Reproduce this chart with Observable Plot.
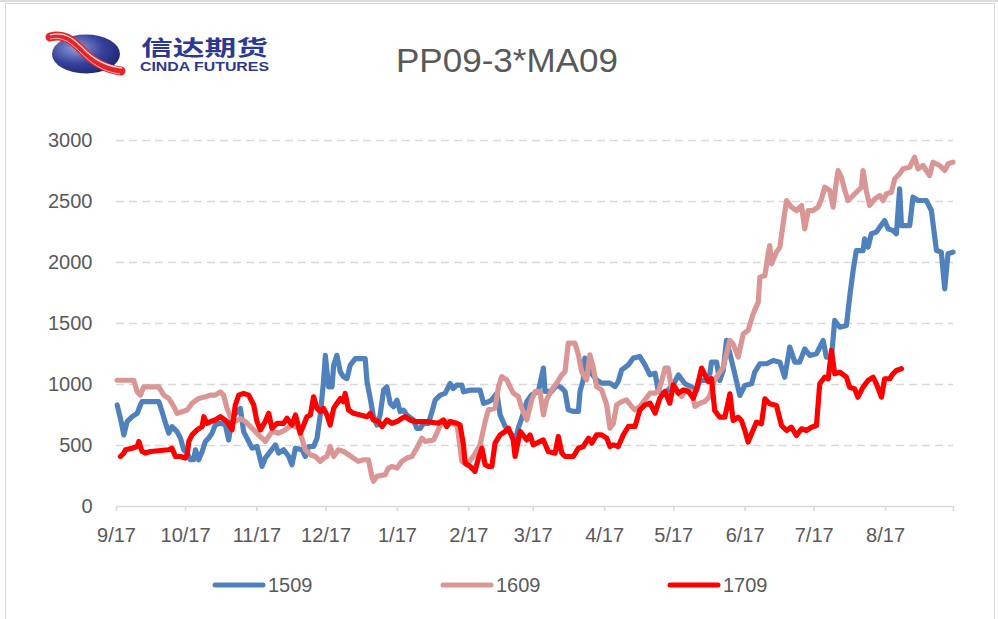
<!DOCTYPE html>
<html>
<head>
<meta charset="utf-8">
<script src="https://cdn.jsdelivr.net/npm/d3@7"></script>
<script src="https://cdn.jsdelivr.net/npm/@observablehq/plot@0.6"></script>
<style>
  html, body { margin: 0; padding: 0; background: #fff; }
  #page { position: relative; width: 998px; height: 619px; overflow: hidden; font-family: "Liberation Sans", Arial, sans-serif; }
  #frame { position: absolute; left: 5px; top: 3px; width: 990px; height: 640px; border: 1.5px solid #d9d9d9; box-sizing: border-box; }
  #topline { position: absolute; left: 0; top: 0; width: 998px; height: 1.5px; background: #dcdcdc; }
  #chart { position: absolute; left: 0; top: 0; }
  #header { position: absolute; left: 0; top: 0; }
  #legend { position: absolute; left: 0; top: 560px; }
</style>
</head>
<body>
<div id="page">
  <div id="topline"></div>
  <div id="frame"></div>
  <div id="chart"></div>
  <svg id="header" width="998" height="110"></svg>
  <svg id="legend" width="998" height="59"></svg>
</div>
<script>
// ---- Data (x = days since the 9/17 axis start, y = spread value) ----
const title = "PP09-3*MA09";
const logoCN = "信达期货";
const logoEN = "CINDA FUTURES";

const seriesNames = ["1509", "1609", "1709"];

const s1509 = [
  [0.3,832],[1.7,723],[3.2,587],[4.6,696],[6.8,736],[9.0,764],[10.4,832],[11.1,859],[18.4,859],[19.8,777],
  [21.3,682],[22.7,601],[24.1,655],[26.3,614],[27.8,560],[29.2,465],[30.7,438],[32.1,383],[33.5,383],[34.3,465],
  [35.7,383],[37.2,451],[38.6,533],[40.0,560],[41.5,601],[42.9,669],[45.1,682],[47.3,669],[48.7,546],[50.2,723],
  [52.4,777],[53.8,804],[55.2,614],[57.4,533],[58.9,478],[61.0,492],[63.2,329],[64.6,397],[66.8,451],[69.0,505],
  [70.4,438],[72.6,465],[74.8,410],[76.2,342],[77.7,478],[80.6,465],
  [82.0,410],[83.4,492],[85.6,492],[87.1,560],[88.5,750],[89.9,1022],[90.7,1239],[92.1,981],[93.6,981],[94.3,1158],
  [95.7,1239],[97.2,1103],[98.6,1062],[100.1,1049],[101.5,1158],[103.7,1212],[108.0,1212],[108.8,1022],[110.2,886],[111.6,736],
  [113.1,668],[114.5,750],[116.0,954],[117.4,981],[118.9,845],[120.3,818],[121.8,872],[123.2,777],[124.6,790],[126.1,750],
  [129.0,709],[130.4,641],[131.9,641],[133.3,682],[135.5,682],[137.0,777],[138.4,872],[140.6,913],[142.7,927],[144.9,1008],
  [146.3,967],[147.8,995],[150.0,995],[150.7,940],[153.6,954],[157.9,954],[159.4,845],[161.5,859],
  [163.0,874],[165.2,929],[166.6,751],[168.8,656],[171.7,587],[173.1,533],[174.5,642],[176.0,724],[178.2,860],[180.3,915],
  [183.2,943],[185.4,1134],[186.1,943],[189.0,943],[191.2,997],[193.4,970],[194.8,943],[196.2,792],[198.4,779],[200.6,779],
  [201.3,943],[202.7,1038],[203.4,1216],[205.6,1106],[208.5,1038],[210.7,1011],[214.3,1011],[216.5,983],[217.9,1024],[219.4,1120],
  [222.3,1161],[224.4,1216],[227.3,1229],[229.5,1161],[231.7,1079],[233.9,1093],[235.3,943],[236.7,929],[238.9,943],[241.8,997],
  [244.0,1079],
  [246.9,1006],[249.8,978],[251.9,951],[253.4,1033],[255.5,1033],[257.7,1088],[258.4,1183],[260.6,1183],[262.0,1033],[263.5,1115],
  [264.9,1361],[266.4,1252],[268.5,1088],[270.7,910],[272.9,992],[275.8,1006],[277.2,1101],[279.4,1170],[282.3,1170],[285.2,1197],
  [288.1,1183],[290.2,1060],[292.4,1306],[294.6,1183],[296.7,1183],[298.9,1292],[301.1,1238],[304.0,1252],[306.9,1361],[308.3,1224],
  [310.5,1224],[311.9,1525],[314.1,1470],[317.0,1484],[318.4,1716],[319.9,1934],[321.3,2098],[324.2,2098],[324.9,2194],[326.4,2126],
  [327.8,2235],[330.0,2249],[331.5,2290],[333.6,2344],[335.1,2276],[337.2,2262],[338.7,2235],[340.1,2604],[340.9,2303],[344.5,2303],
  [345.9,2536],[348.1,2508],[351.7,2508],[353.9,2426],[356.1,2098],[358.2,2085],[359.7,1784],[361.1,2071],[363.3,2085]
];

const s1609 = [
  [0.3,1035],[7.5,1035],[9.0,940],[10.4,913],[11.8,981],[18.4,981],[20.5,913],[22.7,886],[24.9,818],[26.3,764],
  [28.5,777],[30.7,791],[32.8,845],[35.7,886],[38.6,899],[40.8,913],[42.9,913],[45.1,940],[46.5,913],[48.0,804],
  [49.5,736],[51.6,700],[54.0,720],[56.0,696],[58.9,641],[61.7,587],[64.6,533],[67.5,614],[70.4,601],[73.3,628],
  [76.2,669],[79.1,640],[80.7,546],
  [82.0,465],[84.2,424],[86.3,410],[88.5,370],[89.9,397],[91.4,410],[92.8,492],[94.3,410],[96.4,465],[98.6,451],
  [100.8,424],[102.9,397],[105.1,370],[107.3,383],[109.4,383],[110.9,247],[111.6,207],[113.1,247],[116.7,261],[118.1,315],
  [119.6,329],[121.8,315],[123.9,370],[126.1,397],[128.3,410],[130.4,478],[132.6,560],[134.1,533],[137.7,546],[139.1,600],
  [140.6,668],[144.0,700],[148.0,660],
  [150.0,369],[152.1,341],[155.0,410],[157.9,505],[160.1,697],[161.5,792],[164.4,806],[165.9,983],[167.3,1065],[169.5,1038],
  [170.9,983],[172.3,929],[174.5,902],[176.0,806],[178.2,710],[180.3,874],[181.8,943],[183.9,943],[185.4,751],[186.8,874],
  [189.0,956],[191.2,1011],[193.4,1079],[194.8,1106],[196.2,1339],[199.1,1339],[200.6,1243],[202.0,1106],[204.2,1038],[205.6,1243],
  [207.1,1134],[208.5,983],[210.7,956],[212.9,833],[214.3,642],[215.8,683],[217.2,833],[219.4,860],[221.5,874],[223.7,820],
  [225.2,792],[227.3,820],[229.5,874],[231.7,929],[233.9,929],[235.3,943],[236.7,1024],[238.2,1134],[239.6,1134],[241.0,970],
  [242.5,983],[244.0,929],[245.4,902],[247.6,956],[249.8,943],[251.2,820],[253.4,847],[255.5,860],
  [257.5,900],[259.6,1033],[263.5,1142],[266.4,1361],[267.8,1333],[270.0,1224],[272.2,1415],[274.3,1443],[276.5,1579],[278.7,1675],
  [279.4,1880],[281.6,1893],[283.0,2071],[283.7,2139],[284.5,1989],[286.6,2085],[288.1,2126],[289.5,2317],[291.0,2508],[293.1,2454],
  [295.3,2426],[297.5,2467],[298.9,2276],[300.4,2426],[302.5,2426],[304.7,2454],[306.2,2522],[307.6,2617],[309.8,2590],[311.2,2454],
  [312.7,2672],[313.4,2754],[314.8,2699],[316.3,2590],[317.7,2508],[319.9,2549],[321.3,2576],[323.5,2617],[324.2,2754],[325.6,2590],
  [327.1,2467],[329.3,2522],[331.5,2549],[332.9,2508],[334.4,2563],[336.5,2576],[338.0,2686],[340.1,2727],[341.6,2768],[344.5,2781],
  [346.6,2863],[348.1,2768],[350.3,2795],[353.1,2713],[354.6,2822],[357.5,2795],[359.7,2754],[361.1,2809],[363.3,2822]
];

const s1709 = [
  [1.7,410],[3.2,438],[3.9,465],[6.8,478],[9.0,492],[9.7,533],[11.1,451],[12.6,438],[14.8,451],[22.7,465],
  [24.1,478],[25.6,410],[27.8,410],[29.9,397],[30.7,424],[31.4,533],[32.8,587],[35.0,628],[37.2,655],[37.9,736],
  [39.3,682],[40.8,696],[42.9,709],[45.1,736],[48.0,696],[50.2,628],[51.6,832],[53.1,913],[55.2,927],[57.4,913],
  [59.6,832],[61.0,696],[62.5,628],[64.6,696],[66.1,764],[67.5,641],[69.7,682],[72.6,682],[74.0,723],[76.2,669],
  [77.7,750],[79.8,601],[81.3,669],
  [82.7,736],[84.2,750],[85.6,899],[87.1,804],[88.5,777],[89.9,804],[91.4,750],[92.8,668],[94.3,804],[95.7,845],
  [97.2,886],[98.6,859],[99.3,927],[100.8,790],[102.9,764],[105.9,750],[108.8,736],[110.2,764],[111.6,709],[113.8,696],
  [115.3,655],[117.4,709],[119.6,682],[121.8,696],[123.9,723],[125.4,736],[127.5,709],[129.7,696],[134.8,696],[139.8,682],
  [142.0,709],[143.4,655],[144.9,696],[147.8,682],[149.2,668],[150.7,505],[151.4,356],[153.6,329],[155.7,288],[157.2,397],
  [158.7,478],[160.1,342],[161.5,329],
  [163.0,328],[164.4,519],[166.6,587],[168.8,615],[170.2,642],[172.3,546],[173.1,410],[175.3,615],[178.2,546],[179.6,587],
  [181.0,505],[183.9,533],[185.4,546],[187.5,451],[190.5,437],[191.9,574],[193.4,437],[194.8,410],[198.4,410],[200.6,478],
  [202.7,492],[205.0,560],[206.4,519],[208.5,587],[210.7,587],[212.9,560],[214.3,492],[215.8,505],[217.9,492],[220.1,587],
  [222.3,656],[225.2,656],[227.3,792],[229.5,833],[231.7,847],[233.9,765],[236.0,888],[238.2,943],[240.3,847],[241.8,997],
  [244.0,929],[246.2,956],[248.3,943],[250.5,888],[252.0,970],[254.1,1134],[257.0,1024],
  [258.4,1047],[259.8,787],[262.0,732],[264.2,732],[266.4,924],[267.8,705],[270.0,732],[271.4,705],[272.9,623],[274.3,528],
  [275.8,596],[277.9,691],[280.1,678],[281.6,883],[283.7,842],[286.6,828],[288.8,664],[291.0,623],[293.1,650],[295.3,582],
  [297.5,637],[299.6,623],[301.8,650],[304.0,664],[305.4,1006],[307.6,1060],[309.1,1047],[310.5,1279],[311.9,1088],[314.1,1101],
  [317.0,1060],[318.4,978],[320.6,964],[322.0,896],[324.2,978],[326.4,1033],[328.6,1060],[330.0,1006],[332.2,896],[333.6,1047],
  [335.8,1047],[337.2,1088],[338.7,1115],[340.9,1129]
];

const tickDays = [0, 30, 61, 91, 122, 153, 181, 212, 242, 273, 303, 334];
const tickLabels = ["9/17", "10/17", "11/17", "12/17", "1/17", "2/17", "3/17", "4/17", "5/17", "6/17", "7/17", "8/17"];
const axisEndDay = 363.5;
const yTicks = [0, 500, 1000, 1500, 2000, 2500, 3000];

// ---- Styles ----
const colors = {"1509": "#4f81bd", "1609": "#d99694", "1709": "#ff0000"};
const seriesData = {"1509": s1509, "1609": s1609, "1709": s1709};
const textColor = "#595959";
const gridColor = "#d9d9d9";
const font = "'Liberation Sans', Arial, sans-serif";

const rows = seriesNames.flatMap(name =>
  seriesData[name].map(([day, value]) => ({series: name, day, value}))
);
const labelOf = new Map(tickDays.map((d, i) => [d, tickLabels[i]]));

const chart = Plot.plot({
  width: 998,
  height: 560,
  marginLeft: 116,
  marginRight: 45,
  marginTop: 140,
  marginBottom: 54,
  style: {fontFamily: font, fontSize: "20px", color: textColor, background: "transparent", overflow: "visible"},
  x: {type: "linear", domain: [0, axisEndDay], label: null},
  y: {type: "linear", domain: [0, 3000], label: null},
  marks: [
    Plot.gridY(yTicks.filter(d => d > 0), {stroke: gridColor, strokeOpacity: 1, strokeWidth: 1.4, strokeDasharray: "8,5"}),
    Plot.axisY({ticks: yTicks, tickSize: 0, tickPadding: 24, tickFormat: d => String(d), fill: textColor, fontSize: 20, label: null}),
    Plot.ruleY([0], {stroke: gridColor, strokeWidth: 1.6}),
    Plot.axisX({ticks: [...tickDays, axisEndDay], tickSize: 5, tickPadding: 16, label: null,
      tickFormat: d => labelOf.get(d) ?? "", stroke: gridColor, strokeWidth: 1.6, fill: textColor, fontSize: 20}),
    ...seriesNames.map(name => Plot.line(rows.filter(r => r.series === name), {
      x: "day", y: "value", stroke: colors[name], strokeWidth: 5.2,
      strokeLinejoin: "round", strokeLinecap: "round"
    }))
  ]
});
document.getElementById("chart").appendChild(chart);

// ---- Header: logo + title ----
const header = d3.select("#header");
const defs = header.append("defs");
const grad = defs.append("radialGradient").attr("id", "lg").attr("cx", "35%").attr("cy", "35%").attr("r", "75%");
grad.append("stop").attr("offset", "0%").attr("stop-color", "#8f9bd6");
grad.append("stop").attr("offset", "55%").attr("stop-color", "#34409a");
grad.append("stop").attr("offset", "100%").attr("stop-color", "#1c2470");
header.append("ellipse").attr("cx", 86).attr("cy", 54).attr("rx", 34).attr("ry", 19.5).attr("fill", "url(#lg)");
const swoosh = "M50,37 C64,33 72,40 82,50 C92,61 104,69 121,71";
header.append("path").attr("d", swoosh).attr("fill", "none").attr("stroke", "#e3262c").attr("stroke-width", 9).attr("stroke-linecap", "round");
header.append("path").attr("d", "M50,35 C64,31 73,38 83,48 C93,59 105,66 122,68").attr("fill", "none").attr("stroke", "#ffffff").attr("stroke-width", 1.3).attr("opacity", 0.85);
header.append("path").attr("d", "M50,39 C63,36 71,43 81,53 C91,63 103,72 120,74").attr("fill", "none").attr("stroke", "#ffffff").attr("stroke-width", 1.0).attr("opacity", 0.6);
header.append("text").attr("x", 141).attr("y", 55).attr("textLength", 127).attr("lengthAdjust", "spacingAndGlyphs")
  .attr("font-family", "'Noto Sans CJK SC', sans-serif").attr("font-weight", 700).attr("font-size", 21).attr("fill", "#2b3990").text(logoCN);
header.append("text").attr("x", 140).attr("y", 71).attr("textLength", 129).attr("lengthAdjust", "spacingAndGlyphs")
  .attr("font-family", font).attr("font-weight", 700).attr("font-size", 12).attr("fill", "#2b3990").text(logoEN);
header.append("text").attr("x", 396).attr("y", 72).attr("textLength", 222).attr("lengthAdjust", "spacingAndGlyphs")
  .attr("font-family", font).attr("font-size", 33).attr("fill", textColor).text(title);

// ---- Legend ----
const legend = d3.select("#legend");
const legendX = [213, 441, 668];
seriesNames.forEach((name, i) => {
  const x = legendX[i];
  legend.append("line").attr("x1", x + 2).attr("x2", x + 50).attr("y1", 25).attr("y2", 25)
    .attr("stroke", colors[name]).attr("stroke-width", 5).attr("stroke-linecap", "round");
  legend.append("text").attr("x", x + 55).attr("y", 32).attr("font-family", font).attr("font-size", 20)
    .attr("fill", textColor).text(name);
});
</script>
</body>
</html>
